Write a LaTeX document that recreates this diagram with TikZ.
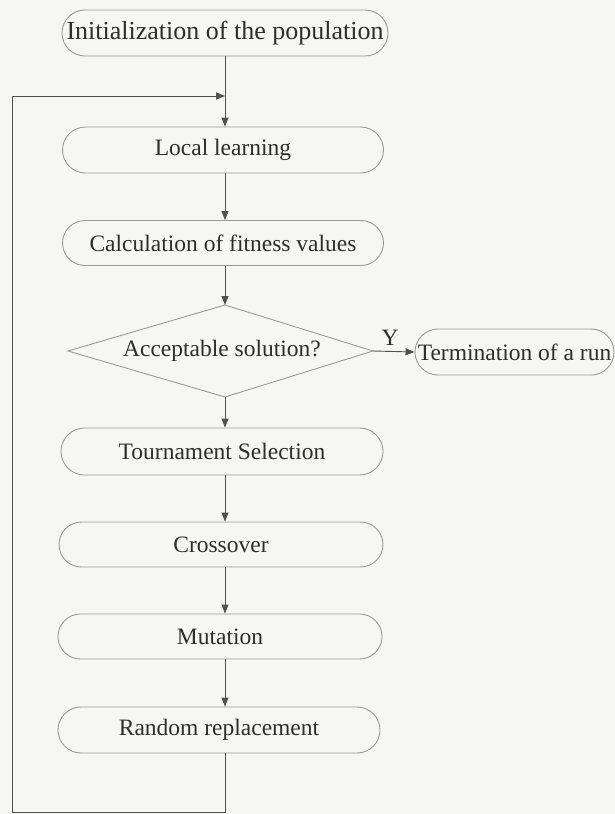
\documentclass[tikz,border=0pt]{standalone}
\usepackage{fontspec}
\setmainfont{Liberation Serif}
\usetikzlibrary{shapes.misc,arrows.meta}
\definecolor{bgc}{HTML}{F6F6F4}
\definecolor{edgec}{HTML}{9A9A9A}
\definecolor{linec}{HTML}{505050}
\definecolor{txtc}{HTML}{2E2E2E}
\tikzset{
  stadium/.style={draw=edgec, line width=0.9pt, rounded rectangle, minimum height=46pt, inner sep=0pt, text=txtc, font=\fontsize{23.5}{27}\selectfont},
  conn/.style={draw=linec, line width=0.9pt, -{Triangle[length=9pt,width=7pt]}},
  plainline/.style={draw=linec, line width=0.9pt},
  dshape/.style={draw=edgec, line width=0.9pt},
  lbl/.style={text=txtc, font=\fontsize{23.5}{27}\selectfont, inner sep=0pt}
}
\begin{document}
\begin{tikzpicture}[x=1pt,y=-1pt]
\fill[bgc] (0,0) rectangle (615,814);
\useasboundingbox (0,0) rectangle (615,814);
\node[stadium, minimum width=326pt, font=\fontsize{26}{30}\selectfont] (init) at (225,33) {Initialization of the population};
\node[stadium, minimum width=321pt] (local) at (223,150) {Local learning};
\node[stadium, minimum width=321pt, minimum height=45pt] (calc) at (223,243) {Calculation of fitness values};
\coordinate (dt) at (225,305);
\coordinate (db) at (225,397);
\coordinate (dl) at (68,351);
\coordinate (dr) at (373,351);
\draw[dshape] (dt) -- (dr) -- (db) -- (dl) -- cycle;
\node[lbl] (dtext) at (222,351) {Acceptable solution?};
\node[stadium, minimum width=199pt] (term) at (514.5,352) {Termination of a run};
\node[stadium, minimum width=322pt, minimum height=47pt] (tourn) at (222,451.5) {Tournament Selection};
\node[stadium, minimum width=324pt, minimum height=45pt] (cross) at (221,544.5) {Crossover};
\node[stadium, minimum width=324pt, minimum height=45pt] (mut) at (220,636.5) {Mutation};
\node[stadium, minimum width=322pt] (rand) at (219,730) {Random replacement};
\node[lbl] (ylab) at (390,338) {Y};
\coordinate (join) at (225,96);
\coordinate (bl) at (12,812);
\coordinate (br) at (225,812);
\coordinate (tl) at (12,96);
\draw[conn] (init.south -| join) -- (local.north -| join);
\draw[conn] (local.south -| join) -- (calc.north -| join);
\draw[conn] (calc.south -| join) -- (dt);
\draw[conn] (dr) -- (term.west);
\draw[conn] (db) -- (tourn.north -| join);
\draw[conn] (tourn.south -| join) -- (cross.north -| join);
\draw[conn] (cross.south -| join) -- (mut.north -| join);
\draw[conn] (mut.south -| join) -- (rand.north -| join);
\draw[plainline] (rand.south -| join) -- (br) -- (bl) -- (tl);
\draw[conn] (tl) -- (join);
\end{tikzpicture}
\end{document}
